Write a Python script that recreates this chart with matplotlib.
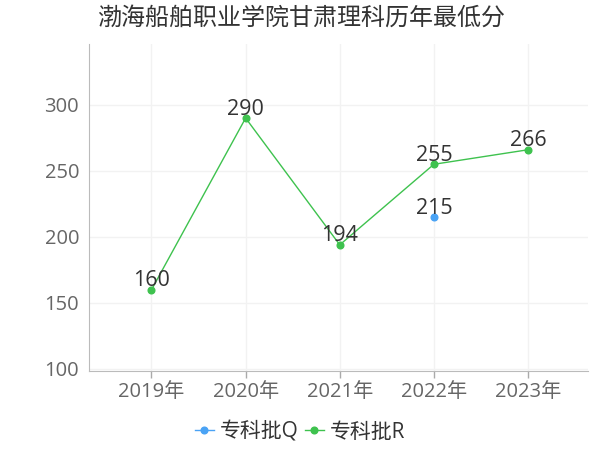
import matplotlib
matplotlib.use("Agg")
import matplotlib.pyplot as plt
import numpy as np

plt.rcParams['font.family'] = ['Open Sans', 'Noto Sans CJK SC', 'DejaVu Sans']

title = "渤海船舶职业学院甘肃理科历年最低分"
years = ["2019年", "2020年", "2021年", "2022年", "2023年"]
series_q_name = "专科批Q"
series_q = [None, None, None, 215, None]
series_r_name = "专科批R"
series_r = [160, 290, 194, 255, 266]
yticks = [100, 150, 200, 250, 300]

blue = "#4aa3f5"
green = "#3ec24e"

fig = plt.figure(figsize=(6, 4.5), dpi=100)
ax = fig.add_axes([0.148, 0.1756, 0.832, 0.7264])

x = np.arange(len(years))
qx = [i for i, v in enumerate(series_q) if v is not None]
qy = [v for v in series_q if v is not None]
ax.plot(qx, qy, color=blue, lw=1, marker='o', ms=4.8, label=series_q_name, zorder=3)
ax.plot(x, series_r, color=green, lw=1, marker='o', ms=4.8, label=series_r_name, zorder=3)

for xi, v in zip(qx, qy):
    ax.annotate(str(v), (xi, v), xytext=(0, 2.5), textcoords='offset points',
                ha='center', va='baseline', fontsize=15.5, color='#333333')
for xi, v in zip(x, series_r):
    ax.annotate(str(v), (xi, v), xytext=(0, 2.5), textcoords='offset points',
                ha='center', va='baseline', fontsize=15.5, color='#333333')

ax.set_xlim(-0.666, 4.637)
ax.set_ylim(98.5, 346)
ax.set_xticks(x)
ax.set_xticklabels(years)
ax.set_yticks(yticks)
ax.tick_params(axis='x', colors='#aaaaaa', labelcolor='#666666', labelsize=14.5, length=5, width=1, pad=3)
ax.tick_params(axis='y', length=0, labelcolor='#666666', labelsize=14.5, pad=7)
ax.grid(True, color='#f2f2f2', lw=1)
ax.set_axisbelow(True)
for s in ['top', 'right']:
    ax.spines[s].set_visible(False)
ax.spines['left'].set_color('#bbbbbb')
ax.spines['bottom'].set_color('#bbbbbb')

fig.text(0.162, 0.958, title, fontsize=17.3, color='#333333', ha='left', va='center')

fig.legend(loc='center', bbox_to_anchor=(0.5, 0.04), ncol=2, frameon=False,
           fontsize=15, handlelength=0.9, handletextpad=0.3, columnspacing=0.3,
           labelcolor='#333333')

fig.savefig("out.png", dpi=100)
